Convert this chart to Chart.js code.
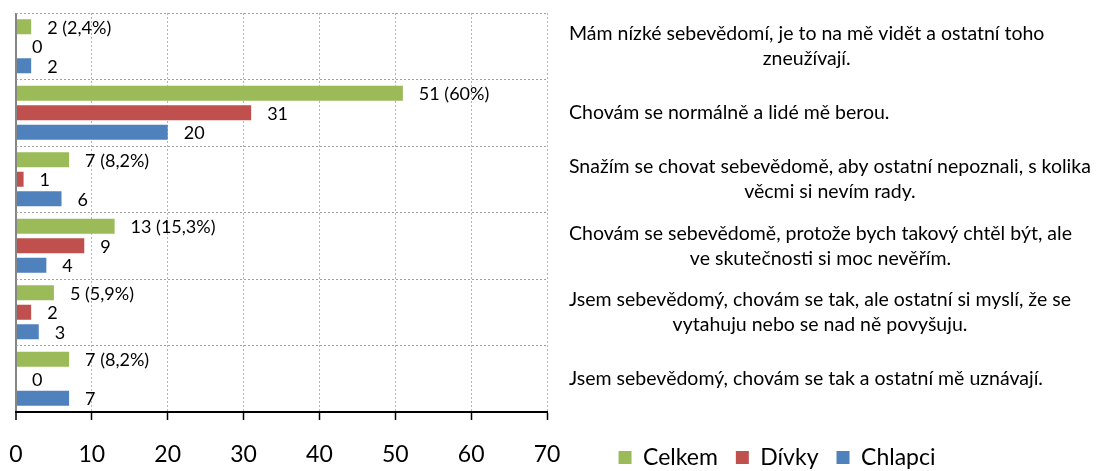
<!DOCTYPE html>
<html>
<head>
<meta charset="utf-8">
<script src="https://cdn.jsdelivr.net/npm/chart.js@4"></script>
<style>
  html, body { margin: 0; padding: 0; background: #fff; }
</style>
</head>
<body>
<canvas id="chart" width="1105" height="471"></canvas>
<script>
const categories = [
  ['Mám nízké sebevědomí, je to na mě vidět a ostatní toho', 'zneužívají.'],
  'Chovám se normálně a lidé mě berou.',
  ['Snažím se chovat sebevědomě, aby ostatní nepoznali, s kolika', 'věcmi si nevím rady.'],
  ['Chovám se sebevědomě, protože bych takový chtěl být, ale', 've skutečnosti si moc nevěřím.'],
  ['Jsem sebevědomý, chovám se tak, ale ostatní si myslí, že se', 'vytahuju nebo se nad ně povyšuju.'],
  'Jsem sebevědomý, chovám se tak a ostatní mě uznávají.'
];
const celkem = [2, 51, 7, 13, 5, 7];
const celkemPct = ['2,4', '60', '8,2', '15,3', '5,9', '8,2'];
const divky = [0, 31, 1, 9, 2, 0];
const chlapci = [2, 20, 6, 4, 3, 7];
const xTicks = [0, 10, 20, 30, 40, 50, 60, 70];

const FONT = 'Lato';

// value labels to the right of each bar
const valueLabels = {
  id: 'valueLabels',
  afterDatasetsDraw(chart) {
    const ctx = chart.ctx;
    ctx.save();
    ctx.font = '18px ' + FONT;
    ctx.fillStyle = '#000';
    ctx.textAlign = 'left';
    ctx.textBaseline = 'middle';
    chart.data.datasets.forEach((ds, di) => {
      chart.getDatasetMeta(di).data.forEach((bar, i) => {
        let txt = String(ds.data[i]);
        if (di === 0) txt += ' (' + celkemPct[i] + '%)';
        ctx.fillText(txt, bar.x + 16, bar.y + 1);
      });
    });
    ctx.restore();
  }
};

// category labels on the right: each block left aligned, lines centred in the block
const categoryLabels = {
  id: 'categoryLabels',
  afterDraw(chart) {
    const ctx = chart.ctx;
    const y = chart.scales.y;
    ctx.save();
    ctx.font = '19.5px ' + FONT;
    ctx.fillStyle = '#000';
    ctx.textAlign = 'center';
    ctx.textBaseline = 'middle';
    const lineH = 25;
    chart.data.labels.forEach((lab, i) => {
      const lines = Array.isArray(lab) ? lab : [lab];
      const w = Math.max(...lines.map(l => ctx.measureText(l).width));
      const cy = y.getPixelForValue(i);
      const x0 = y.left + 22;
      lines.forEach((l, j) => {
        ctx.fillText(l, x0 + w / 2, cy + (j - (lines.length - 1) / 2) * lineH);
      });
    });
    ctx.restore();
  }
};

// legend sits on the same row as the x tick labels, under the category texts
const legendPlace = {
  id: 'legendPlace',
  afterLayout(chart) {
    const lg = chart.legend;
    lg.left = chart.chartArea.right - 88;
    lg.right = chart.width - 10;
    lg.top = 428;
    lg.bottom = lg.top + lg.height;
    chart.scales.x.bottom = chart.height;
  }
};

new Chart(document.getElementById('chart'), {
  type: 'bar',
  data: {
    labels: categories,
    datasets: [
      { label: 'Celkem', data: celkem, backgroundColor: '#9BBB59' },
      { label: 'Dívky', data: divky, backgroundColor: '#C0504D' },
      { label: 'Chlapci', data: chlapci, backgroundColor: '#4F81BD' }
    ]
  },
  options: {
    indexAxis: 'y',
    responsive: false,
    animation: false,
    devicePixelRatio: 1,
    categoryPercentage: 0.88,
    barPercentage: 0.77,
    layout: { padding: { top: 13, left: 16, right: 0, bottom: 0 } },
    scales: {
      x: {
        min: 0,
        max: 70,
        afterBuildTicks: s => { s.ticks = xTicks.map(v => ({ value: v })); },
        afterFit: s => {
          s.height = s.chart.height - 412 - s.chart.legend.height;
          s.paddingLeft = 0;
          s.paddingRight = 0;
        },
        ticks: {
          color: '#000',
          padding: 21,
          font: { family: FONT, size: 23 }
        },
        grid: {
          color: c => (c.tick && c.tick.value === 0) ? '#868686' : '#b4b4b4',
          lineWidth: c => (c.tick && c.tick.value === 0) ? 2 : 1,
          tickColor: '#000',
          tickWidth: 1.5,
          tickLength: 8,
          tickBorderDash: []
        },
        border: {
          color: '#000',
          width: 2,
          dash: c => (c.tick && c.tick.value !== 0) ? [2, 2] : []
        }
      },
      y: {
        position: 'right',
        ticks: { display: false },
        afterFit: s => { s.width = 558; },
        grid: {
          color: '#a0a0a0',
          lineWidth: 1,
          drawTicks: false
        },
        border: { display: false, dash: [2, 2] }
      }
    },
    plugins: {
      legend: {
        position: 'bottom',
        labels: {
          color: '#000',
          boxWidth: 13,
          boxHeight: 13,
          padding: 18,
          font: { family: FONT, size: 23 }
        }
      },
      tooltip: { enabled: false }
    }
  },
  plugins: [valueLabels, categoryLabels, legendPlace]
});
</script>
</body>
</html>
